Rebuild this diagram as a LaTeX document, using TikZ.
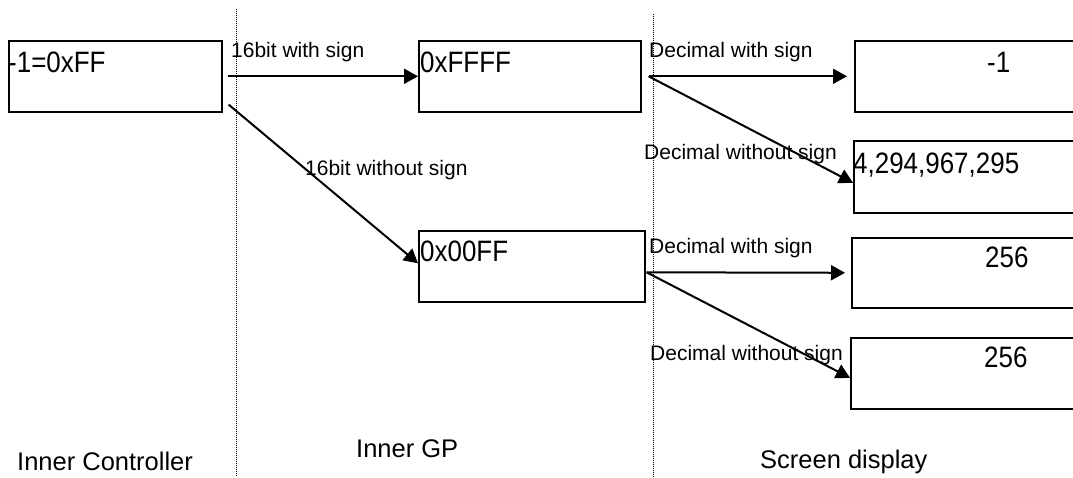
\documentclass[tikz,border=0pt]{standalone}
\usepackage{fontspec}
\setmainfont{Liberation Sans}
\newfontfamily\valuefont[FakeStretch=0.88]{Liberation Sans}
\usetikzlibrary{arrows.meta,calc}

\begin{document}
\begin{tikzpicture}[x=1pt,y=-1pt,
  box/.style={draw,line width=1.6pt,rectangle,inner sep=0pt,anchor=north west},
  valtext/.style={anchor=base west,inner sep=0pt,font=\valuefont\fontsize{29.5}{33}\selectfont},
  edgetext/.style={anchor=base west,inner sep=0pt,font=\fontsize{21}{25}\selectfont},
  coltext/.style={anchor=base west,inner sep=0pt,font=\fontsize{25.5}{30}\selectfont},
  divider/.style={line width=1pt,dash pattern=on 1pt off 1pt},
  arr/.style={line width=2pt,-{Triangle[length=14pt,width=15pt]}}]

\useasboundingbox (0,0) rectangle (1073,477);
\clip (0,0) rectangle (1073,477);

% column dividers
\coordinate (d1t) at (236,9);
\coordinate (d1b) at (236,477);
\coordinate (d2t) at (653,14);
\coordinate (d2b) at (653,477);
\draw[divider] (d1t) -- (d1b);
\draw[divider] (d2t) -- (d2b);

% boxes
\node[box,minimum width=213pt,minimum height=71pt] (A) at (8,40) {};
\node[box,minimum width=222pt,minimum height=71pt] (B) at (418,40) {};
\node[box,minimum width=226pt,minimum height=71pt] (C) at (418,230) {};
\node[box,minimum width=240pt,minimum height=71pt] (D1) at (854,40) {};
\node[box,minimum width=240pt,minimum height=72pt] (D2) at (853,140) {};
\node[box,minimum width=240pt,minimum height=70pt] (D3) at (851,237) {};
\node[box,minimum width=240pt,minimum height=71pt] (D4) at (850,337) {};

% box contents
\node[valtext] (tA) at (8,72) {-1=0xFF};
\node[valtext] (tB) at (420,72) {0xFFFF};
\node[valtext] (tC) at (420,261) {0x00FF};
\node[valtext] (tD1) at (987,72) {-1};
\node[valtext] (tD2) at (853,173) {4,294,967,295};
\node[valtext] (tD3) at (985,267) {256};
\node[valtext] (tD4) at (984,367) {256};

% connectors
\coordinate (sA1) at ([xshift=5pt]A.east);
\coordinate (sA2) at ($(A.south east)+(6,-8)$);
\coordinate (eC) at ($(C.west)+(0,-3)$);
\coordinate (sB) at ([xshift=7pt]B.east);
\coordinate (eD2) at ($(D2.west)+(0,6)$);
\coordinate (sC) at ($(C.east)+(1,6)$);
\coordinate (eD4) at ($(D4.west)+(0,4.5)$);

\draw[arr] (sA1) -- (B.west);
\draw[arr] (sA2) -- (eC);
\draw[arr,shorten >=7pt] (sB) -- (D1.west);
\draw[arr] (sB) -- (eD2);
\draw[arr,shorten >=6pt] (sC) -- (D3.west);
\draw[arr] (sC) -- (eD4);

% connector labels
\node[edgetext] (l1) at (231,57) {16bit with sign};
\node[edgetext] (l2) at (305,175) {16bit without sign};
\node[edgetext] (l3) at (649,57) {Decimal with sign};
\node[edgetext] (l4) at (644,159) {Decimal without sign};
\node[edgetext] (l5) at (649,253) {Decimal with sign};
\node[edgetext] (l6) at (650,360) {Decimal without sign};

% column titles
\node[coltext] (c1) at (17,470) {Inner Controller};
\node[coltext] (c2) at (356,457) {Inner GP};
\node[coltext] (c3) at (760,468) {Screen display};
\end{tikzpicture}
\end{document}
